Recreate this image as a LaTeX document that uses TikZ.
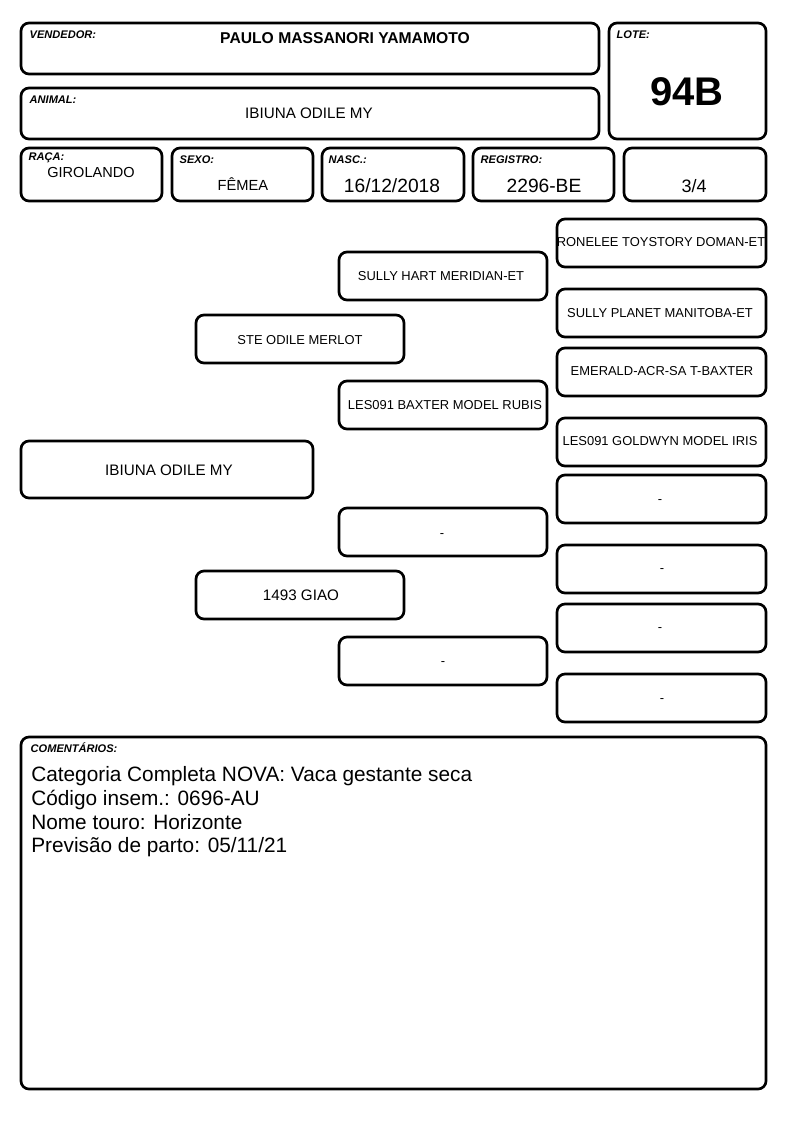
\documentclass[tikz,border=0pt]{standalone}
\usepackage{fontspec}
\setmainfont{Liberation Sans}

\tikzset{
    box/.style={line width=2pt, rounded corners=6pt},
    tag/.style={anchor=west, font=\bfseries\itshape\fontsize{8.3}{9}\selectfont},
    field/.style={font=\fontsize{11.4}{14}\selectfont},
    pedtext/.style={font=\fontsize{9.7}{12}\selectfont},
}

\begin{document}
\begin{tikzpicture}[x=0.75pt, y=-0.75pt]
        \useasboundingbox (0, 0) rectangle (794, 1123);

        % header
        \begin{scope}
            \draw[box] (21, 23) rectangle (599, 74);
            \node[tag] (vendedor tag) at (25, 35) {VENDEDOR:};
            \node[font=\bfseries\fontsize{11.75}{13}\selectfont] (vendedor) at (345, 38) {PAULO MASSANORI YAMAMOTO};

            \draw[box] (609, 23) rectangle (766, 139);
            \node[tag] (lote tag) at (612, 35) {LOTE:};
            \node[font=\bfseries\fontsize{30}{32}\selectfont] (lote) at (687, 92) {94B};

            \draw[box] (21, 88) rectangle (599, 139);
            \node[tag] (animal tag) at (25, 100) {ANIMAL:};
            \node[field] (animal) at (309, 113) {IBIUNA ODILE MY};

            \draw[box] (21, 148) rectangle (162, 201);
            \node[tag] (raca tag) at (24, 158) {RAÇA:};
            \node[font=\fontsize{10.9}{13}\selectfont] (raca) at (91, 172) {GIROLANDO};

            \draw[box] (172, 148) rectangle (313, 201);
            \node[tag] (sexo tag) at (175, 160) {SEXO:};
            \node[font=\fontsize{11}{13}\selectfont] (sexo) at (243, 184) {FÊMEA};

            \draw[box] (322, 148) rectangle (464, 201);
            \node[tag] (nasc tag) at (324, 160) {NASC.:};
            \node[font=\fontsize{14.4}{16}\selectfont] (nasc) at (392, 186) {16/12/2018};

            \draw[box] (473, 148) rectangle (614, 201);
            \node[tag] (registro tag) at (476, 160) {REGISTRO:};
            \node[font=\fontsize{14.4}{16}\selectfont] (registro) at (544, 186) {2296-BE};

            \draw[box] (624, 148) rectangle (766, 201);
            \node[font=\fontsize{13.5}{15}\selectfont] (grau) at (694, 186) {3/4};
        \end{scope}

        % pedigree
        \begin{scope}
            \draw[box] (21, 441) rectangle (313, 498);
            \node[field] (ped animal) at (169, 470) {IBIUNA ODILE MY};

            \draw[box] (196, 315) rectangle (404, 363);
            \node[pedtext] (pai) at (300, 340) {STE ODILE MERLOT};
            \draw[box] (196, 571) rectangle (404, 619);
            \node[field] (mae) at (301, 595) {1493 GIAO};

            \draw[box] (339, 252) rectangle (547, 300);
            \node[pedtext] (avo pp) at (441, 276) {SULLY HART MERIDIAN-ET};
            \draw[box] (339, 381) rectangle (547, 429);
            \node[pedtext] (avo pm) at (445, 405) {LES091 BAXTER MODEL RUBIS};
            \draw[box] (339, 508) rectangle (547, 556);
            \node[pedtext] (avo mp) at (442, 536) {-};
            \draw[box] (339, 637) rectangle (547, 685);
            \node[pedtext] (avo mm) at (443, 664) {-};

            \draw[box] (557, 219) rectangle (766, 267);
            \node[pedtext] (bis 1) at (661, 242) {RONELEE TOYSTORY DOMAN-ET};
            \draw[box] (557, 289) rectangle (766, 337);
            \node[pedtext] (bis 2) at (660, 313) {SULLY PLANET MANITOBA-ET};
            \draw[box] (557, 348) rectangle (766, 396);
            \node[pedtext] (bis 3) at (662, 371) {EMERALD-ACR-SA T-BAXTER};
            \draw[box] (557, 418) rectangle (766, 466);
            \node[pedtext] (bis 4) at (660, 441) {LES091 GOLDWYN MODEL IRIS};
            \draw[box] (557, 475) rectangle (766, 523);
            \node[pedtext] (bis 5) at (660, 502) {-};
            \draw[box] (557, 545) rectangle (766, 593);
            \node[pedtext] (bis 6) at (662, 571) {-};
            \draw[box] (557, 604) rectangle (766, 652);
            \node[pedtext] (bis 7) at (660, 630) {-};
            \draw[box] (557, 674) rectangle (766, 722);
            \node[pedtext] (bis 8) at (662, 701) {-};
        \end{scope}

        % comentarios
        \draw[box] (21, 737) rectangle (766, 1089);
        \node[tag] (coment tag) at (26, 748) {COMENTÁRIOS:};
        \node[anchor=north west, align=left, inner sep=0pt, font=\fontsize{15.6}{17.9}\selectfont] (coment) at (31, 766)
            {Categoria Completa NOVA: Vaca gestante seca\\
             Código insem.: 0696-AU\\
             Nome touro: Horizonte\\
             Previsão de parto: 05/11/21};
    \end{tikzpicture}
\end{document}
